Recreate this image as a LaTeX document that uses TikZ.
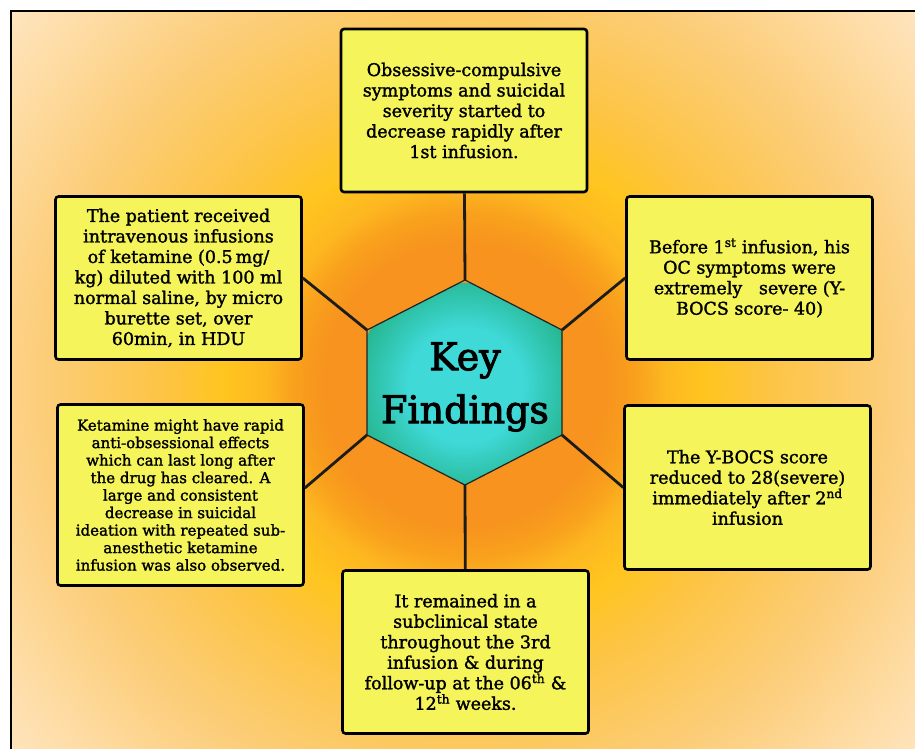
\documentclass[tikz,border=0pt]{standalone}
\usepackage{fontspec}
\setmainfont{DejaVu Serif}
\newfontfamily\findfont{DejaVu Serif}[FakeBold=1.6]
\newfontfamily\keyfont{DejaVu Serif}[FakeBold=2.5]
\usepackage{xcolor}
\usepackage{tikz}
\usetikzlibrary{calc}
\usetikzlibrary{positioning}
\tikzset{>=latex}

\definecolor{boxyellow}{HTML}{F5F55B}
\definecolor{linkdark}{HTML}{1C1C1C}
\definecolor{hexline}{HTML}{222222}
\definecolor{orB}{HTML}{F7931E}
\definecolor{orM}{HTML}{F9A01D}
\definecolor{yelA}{HTML}{FDB820}
\definecolor{yelR}{HTML}{FFC51F}
\definecolor{yelL}{HTML}{FDC443}
\definecolor{paleA}{HTML}{FCCD78}
\definecolor{paleB}{HTML}{FFE8C8}
\definecolor{tealC}{HTML}{3FD9D8}
\definecolor{tealE}{HTML}{26B690}

\pgfdeclareradialshading{bgglow}{\pgfpoint{0bp}{0bp}}{color(0bp)=(orB); color(7.7bp)=(orB); color(9.4bp)=(orM); color(11bp)=(yelA); color(13.2bp)=(yelR); color(16.5bp)=(yelL); color(23bp)=(paleA); color(33.5bp)=(paleB)}
\pgfdeclareradialshading{hexglow}{\pgfpoint{0bp}{0bp}}{color(0bp)=(tealC); color(14bp)=(tealC); color(27bp)=(tealE)}

\tikzstyle{finding} = [rectangle, draw = black, line width = 2.6pt, rounded corners = 3pt, fill = boxyellow, align = center, inner sep = 0, minimum width = 246pt, minimum height = 163pt, font = \findfont\fontsize{17.5}{20.5}\selectfont]
\tikzstyle{link} = [-, line width = 2.8pt, draw = linkdark]

\begin{document}
\begin{tikzpicture}[x=1pt, y=-1pt]
\useasboundingbox (0,0) rectangle (915,749);
% backdrop and frame
\begin{scope}
\clip (12,12) rectangle (915,749);
\shade [shading = bgglow] (10,-70) rectangle (920,840);
\end{scope}
\draw [line width = 2.4pt] (11,749) -- (11,11) -- (915,11);

% hexagon
\coordinate (h1) at (465,280);
\coordinate (h2) at (562,330);
\coordinate (h3) at (562,435);
\coordinate (h4) at (465,485);
\coordinate (h5) at (367,435);
\coordinate (h6) at (367,330);
\begin{scope}
\clip (h1) -- (h2) -- (h3) -- (h4) -- (h5) -- (h6) -- cycle;
\shade [shading = hexglow] (363,283) rectangle (567,487);
\end{scope}
\draw [draw = hexline, line width = 1.2pt] (h1) -- (h2) -- (h3) -- (h4) -- (h5) -- (h6) -- cycle;
\node [draw=none, align=center, font=\keyfont\fontsize{38}{53}\selectfont] (K) at (465,387) {Key\\Findings};

% findings
\node [finding] (T) at (464,110.5) {Obsessive-compulsive\\symptoms and suicidal\\severity started to\\decrease rapidly after\\1st infusion.};
\node [finding] (LT) at (178.5,278) {The patient received\\intravenous infusions\\of ketamine (0.5\,mg/\\kg) diluted with 100 ml\\normal saline, by micro\\burette set, over\\60min, in HDU};
\node [finding] (RT) at (749.5,278) {Before 1\textsuperscript{st} infusion, his\\OC symptoms were\\extremely\ \ \ severe (Y-\\BOCS score- 40)};
\node [finding, minimum height = 181pt, font = \findfont\fontsize{15}{17.5}\selectfont] (LB) at (180.5,495) {Ketamine might have rapid\\anti-obsessional effects\\which can last long after\\the drug has cleared. A\\large and consistent\\decrease in suicidal\\ideation with repeated sub-\\anesthetic ketamine\\infusion was also observed.};
\node [finding, minimum height = 164pt] (RB) at (747.5,487.5) {The Y-BOCS score\\reduced to 28(severe)\\immediately after 2\textsuperscript{nd}\\infusion};
\node [finding] (B) at (465.5,652) {It remained in a\\subclinical state\\throughout the 3rd\\infusion \& during\\follow-up at the 06\textsuperscript{th} \&\\12\textsuperscript{th} weeks.};

% spokes
\draw [link] (T) to (h1);
\draw [link] (LT.east) to (h6);
\draw [link] (RT.west) to (h2);
\draw [link] ([yshift=7pt]LB.east) to (h5);
\draw [link] (RB.west) to (h3);
\draw [link] (B) to (h4);
\end{tikzpicture}
\end{document}
